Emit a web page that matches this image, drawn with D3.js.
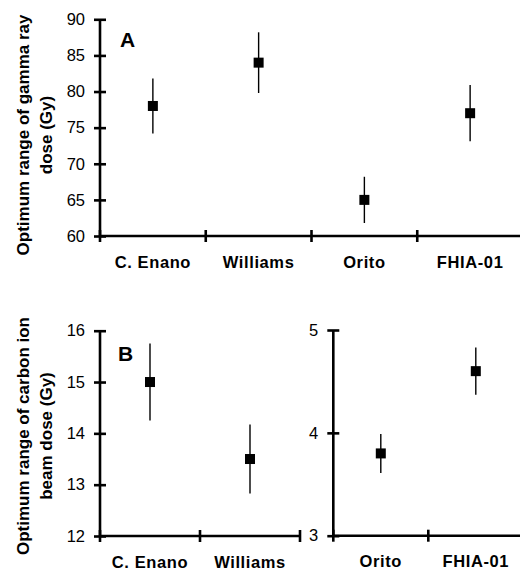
<!DOCTYPE html>
<html>
<head>
<meta charset="utf-8">
<script src="https://cdn.jsdelivr.net/npm/d3@7"></script>
<style>
  html, body { margin: 0; padding: 0; background: #fff; }
  svg { display: block; font-family: "Liberation Sans", Arial, sans-serif; }
</style>
</head>
<body>
<svg id="chart" width="520" height="574"></svg>
<script>
// ---- Data ----
const categoriesA = ["C. Enano", "Williams", "Orito", "FHIA-01"];
const valuesA = [78, 84, 65, 77];
const errorsA = [3.8, 4.2, 3.2, 3.9];
const ticksA = [60, 65, 70, 75, 80, 85, 90];

const categoriesB1 = ["C. Enano", "Williams"];
const valuesB1 = [15.0, 13.5];
const errorsB1 = [0.75, 0.67];
const ticksB1 = [12, 13, 14, 15, 16];

const categoriesB2 = ["Orito", "FHIA-01"];
const valuesB2 = [3.8, 4.6];
const errorsB2 = [0.19, 0.23];
const ticksB2 = [3, 4, 5];

const titleA = ["Optimum range of gamma ray", "dose (Gy)"];
const titleB = ["Optimum range of carbon ion", "beam dose (Gy)"];

const svg = d3.select("#chart");

function panel(opts) {
  const { cats, vals, errs, ticks, x0, x1, y0, y1, domain } = opts;
  const g = svg.append("g");
  const x = d3.scaleBand().domain(cats).range([x0, x1]).padding(0);
  const y = d3.scaleLinear().domain(domain).range([y0, y1]);

  // y axis
  const ya = g.append("g").attr("transform", `translate(${x0},0)`)
    .call(d3.axisLeft(y).tickValues(ticks).tickSize(6).tickPadding(9).tickFormat(d3.format("d")));
  ya.select(".domain").attr("stroke", "#000").attr("stroke-width", 2.6)
    .attr("d", `M0,${y0}V${y1}`);
  ya.selectAll(".tick line").attr("x1", 6).attr("x2", -6).attr("stroke", "#000").attr("stroke-width", 2.6);
  ya.selectAll(".tick text").attr("font-size", 16.5).attr("fill", "#000")
    .attr("font-family", "Liberation Sans, Arial, sans-serif");

  // x axis
  const xa = g.append("g").attr("transform", `translate(0,${y0})`)
    .call(d3.axisBottom(x).tickSize(0).tickPadding(20));
  xa.select(".domain").attr("stroke", "#000").attr("stroke-width", 2.6)
    .attr("d", `M${x0},0H${x1}`);
  xa.selectAll(".tick text").attr("font-size", 16.5).attr("font-weight", "bold")
    .attr("letter-spacing", 0.6).attr("fill", "#000")
    .attr("font-family", "Liberation Sans, Arial, sans-serif");
  const bounds = cats.map(c => x(c)).concat([x1]);
  xa.selectAll("line.bnd").data(bounds).enter().append("line").attr("class", "bnd")
    .attr("x1", d => d).attr("x2", d => d).attr("y1", -6).attr("y2", 6)
    .attr("stroke", "#000").attr("stroke-width", 2.6);

  // error bars
  const data = cats.map((c, i) => ({ c, v: vals[i], e: errs[i] }));
  g.selectAll("line.err").data(data).enter().append("line").attr("class", "err")
    .attr("x1", d => x(d.c) + x.bandwidth() / 2)
    .attr("x2", d => x(d.c) + x.bandwidth() / 2)
    .attr("y1", d => y(d.v + d.e)).attr("y2", d => y(d.v - d.e))
    .attr("stroke", "#000").attr("stroke-width", 1.4);
  const s = 10;
  g.selectAll("rect.pt").data(data).enter().append("rect").attr("class", "pt")
    .attr("x", d => x(d.c) + x.bandwidth() / 2 - s / 2)
    .attr("y", d => y(d.v) - s / 2)
    .attr("width", s).attr("height", s).attr("fill", "#000");
  return g;
}

panel({ cats: categoriesA, vals: valuesA, errs: errorsA, ticks: ticksA,
  x0: 100, x1: 523, y0: 236, y1: 19.3, domain: [60, 90] });
panel({ cats: categoriesB1, vals: valuesB1, errs: errorsB1, ticks: ticksB1,
  x0: 100, x1: 300, y0: 536, y1: 330.7, domain: [12, 16] });
panel({ cats: categoriesB2, vals: valuesB2, errs: errorsB2, ticks: ticksB2,
  x0: 333.3, x1: 523.3, y0: 535.7, y1: 330, domain: [3, 5] });

// Panel letters
svg.append("text").attr("x", 120).attr("y", 47).text("A")
  .attr("font-size", 21).attr("font-weight", "bold");
svg.append("text").attr("x", 118).attr("y", 361).text("B")
  .attr("font-size", 21).attr("font-weight", "bold");

// Y titles
function ytitle(lines, cy) {
  const t = svg.append("text").attr("transform", `translate(0,${cy}) rotate(-90)`)
    .attr("text-anchor", "middle").attr("font-size", 17).attr("font-weight", "bold");
  t.selectAll("tspan").data(lines).enter().append("tspan")
    .attr("x", 0).attr("y", (d, i) => 29 + i * 23).text(d => d);
}
ytitle(titleA, 135);
ytitle(titleB, 436);
</script>
</body>
</html>
